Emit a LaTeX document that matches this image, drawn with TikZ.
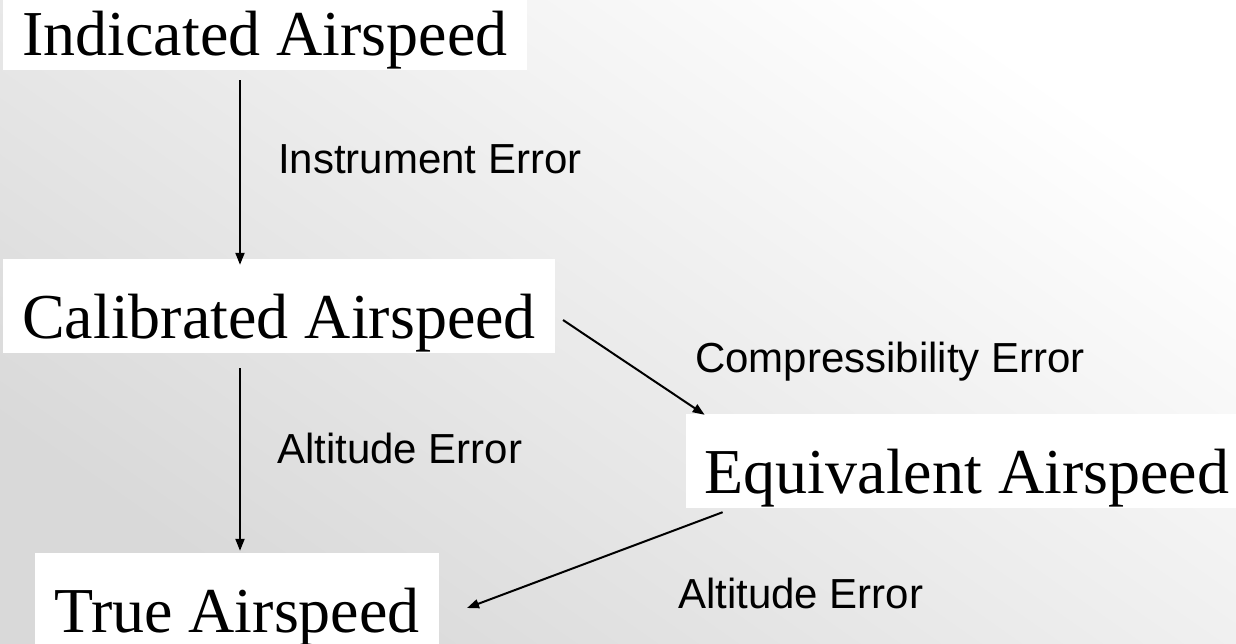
\documentclass[tikz,border=0pt]{standalone}
\usepackage{fontspec}
\setmainfont{Liberation Serif}
\setsansfont{Liberation Sans}
\usetikzlibrary{arrows.meta,calc}

\begin{document}
\begin{tikzpicture}[
  x=1pt, y=-1pt,
  speed/.style={fill=white, font=\rmfamily\fontsize{64}{70}\selectfont,
    inner xsep=19pt, inner ysep=1pt, text height=78pt, text depth=14pt, anchor=base},
  err/.style={font=\sffamily\fontsize{42}{46}\selectfont, inner sep=0pt, anchor=base west},
  arrow/.style={line width=2pt, -{Triangle[length=12pt, width=9pt]}}
]
\useasboundingbox (0,0) rectangle (1236,643);
\shade[shading=axis, top color=white, bottom color=gray!30, shading angle=-35]
  (0,0) rectangle (1236,643);
% airspeed boxes
\node[speed] (ind) at (265,55) {Indicated Airspeed};
\node[speed] (cal) at (279,338) {Calibrated Airspeed};
\node[speed] (eqv) at (967,493) {Equivalent Airspeed};
\node[speed] (tru) at (237,632) {True Airspeed};
% error labels
\node[err] (inst) at (278,173) {Instrument Error};
\node[err] (comp) at (695,372) {Compressibility Error};
\node[err] (alt1) at (277,463) {Altitude Error};
\node[err] (alt2) at (678,608) {Altitude Error};
\coordinate (axis) at (240,0);
\draw[arrow, shorten <=10pt, shorten >=-6pt] (ind.south -| axis) -- (cal.north -| axis);
\draw[arrow, shorten <=15pt, shorten >=2pt] (cal.south -| axis) -- (tru.north -| axis);
\draw[arrow] ($(cal.east)+(8,14)$) -- ($(eqv.north west)+(19,1)$);
\draw[arrow] ($(eqv.south west)+(37,4)$) -- ($(tru.east)+(28,8)$);
\end{tikzpicture}
\end{document}
